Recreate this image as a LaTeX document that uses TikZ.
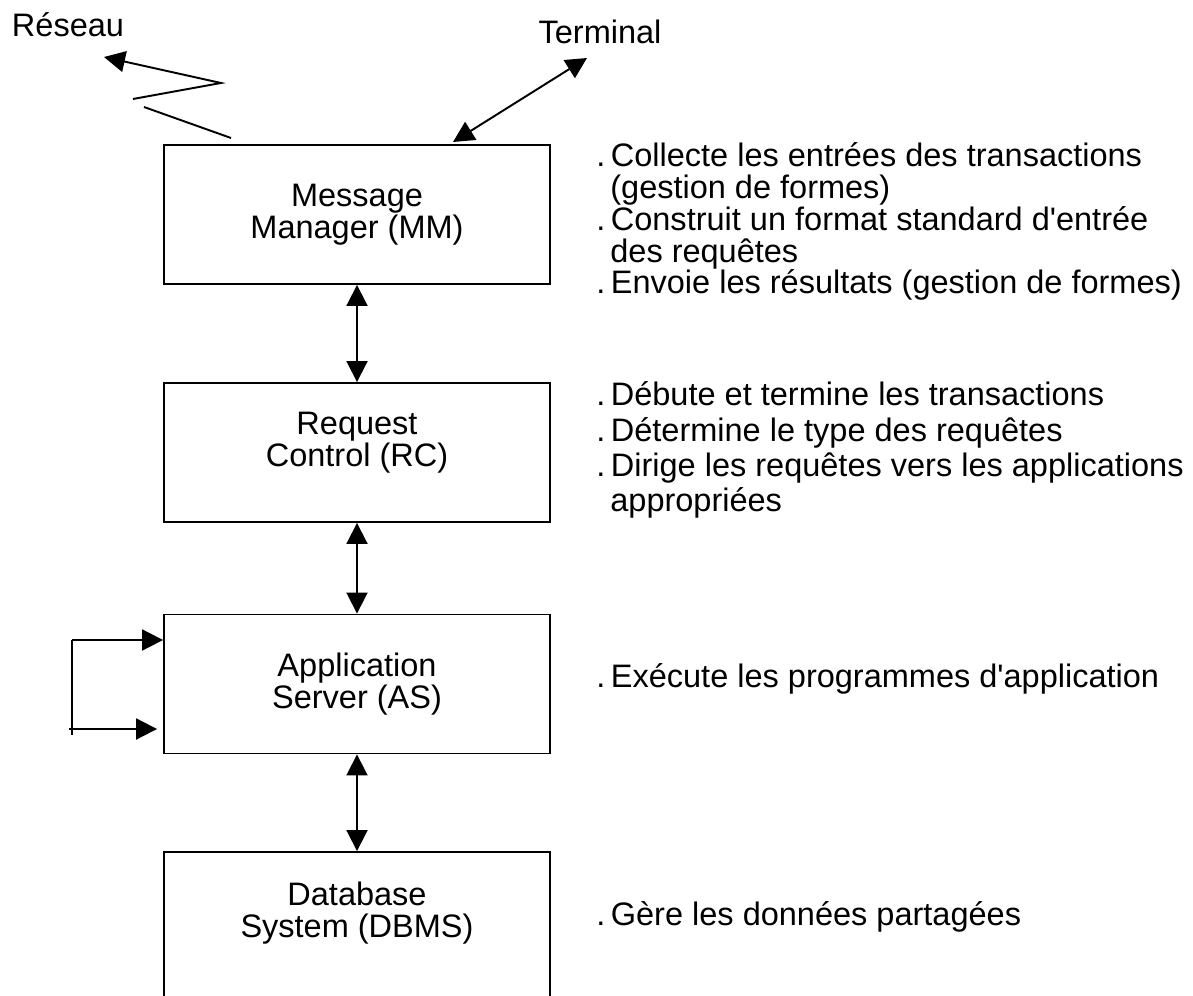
\documentclass[tikz,border=0pt]{standalone}
\usepackage{fontspec}
\setmainfont{Liberation Sans}
\usetikzlibrary{arrows.meta,positioning,calc}
\newcommand{\Retrait}{\hspace*{0.28cm}}
\newcommand{\Puce}{.\hspace{0.17em}}
\newcommand{\Apos}{\textquotesingle}

\begin{document}
\begin{tikzpicture}[
	x=0.02cm, y=-0.02cm,
	font=\fontsize{18.5}{18.2}\selectfont,
	box/.style={rectangle, draw, line width=1.1pt, minimum width=7.72cm, minimum height=2.78cm, align=center, inner sep=0pt},
	arrow/.style={-{Triangle[length=0.42cm,width=0.42cm]}, line width=1.1pt},
	dblarrow/.style={{Triangle[length=0.42cm,width=0.42cm]}-{Triangle[length=0.42cm,width=0.42cm]}, line width=1.1pt},
	plain/.style={line width=1.1pt},
	note/.style={anchor=base west, align=left, inner sep=0pt}
	]
	\useasboundingbox (0,0) rectangle (1193,996);
	
	% Boxes
	\node[box] (mm) at (357,214.5) {Message\\Manager (MM)};
	\node[box, text depth=0.53cm] (rc) at (357,452.5) {Request\\Control (RC)};
	\node[box] (as) at (357,684) {Application\\Server (AS)};
	\node[box, minimum height=3.4cm, text depth=1.11cm] (dbms) at (357,937) {Database\\System (DBMS)};
	
	% Outside labels
	\node (reseau) at (68,25) {Réseau};
	\node (terminal) at (600,32) {Terminal};
	
	% Vertical links
	\draw[dblarrow] (mm.south) -- (rc.north);
	\draw[dblarrow] (rc.south) -- (as.north);
	\draw[dblarrow] (as.south) -- (dbms.north);
	
	% Terminal link
	\coordinate (mmterm) at (453,142);
	\coordinate (term) at (587,58);
	\draw[dblarrow] (mmterm) -- (term);
	
	% Network link (broken line)
	\coordinate (z1) at (231,138);
	\coordinate (z2) at (144,107);
	\coordinate (z3) at (133,99);
	\coordinate (z4) at (221,83);
	\coordinate (z5) at (104,57);
	\draw[plain] (z1) -- (z2);
	\draw[arrow] (z3) -- (z4) -- (z5);
	
	% Loop on the application server
	\coordinate (loopt) at (72,640);
	\coordinate (loopb) at (72,735);
	\coordinate (loopin) at (69,729);
	\draw[plain] (loopt) -- (loopb);
	\draw[arrow] (loopt) -- (as.west |- loopt);
	\draw[arrow] (loopin) -- ([xshift=-0.12cm]as.west |- loopin);
	
	% Descriptions (anchored on the last line)
	\node[note] (mmnote) at (596,294) {\Puce Collecte les entrées des transactions\\\Retrait(gestion de formes)\\\Puce Construit un format standard d\Apos entrée\\\Retrait des requêtes\\\Puce Envoie les résultats (gestion de formes)};
	
	\node[note, font=\fontsize{18.5}{20.2}\selectfont] (rcnote) at (596,512) {\Puce Débute et termine les transactions\\\Puce Détermine le type des requêtes\\\Puce Dirige les requêtes vers les applications\\\Retrait appropriées};
	
	\node[note] (asnote) at (596,687) {\Puce Exécute les programmes d\Apos application};
	
	\node[note] (dbmsnote) at (596,925) {\Puce Gère les données partagées};
	
\end{tikzpicture}
\end{document}
